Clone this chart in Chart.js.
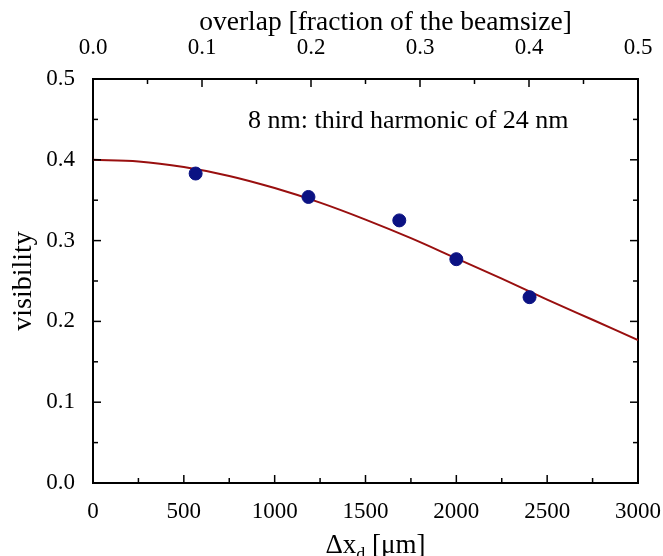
<!DOCTYPE html>
<html>
<head>
<meta charset="utf-8">
<script src="https://cdn.jsdelivr.net/npm/chart.js@4.4.1/dist/chart.umd.min.js"></script>
<style>
  html, body { margin: 0; padding: 0; background: #fff; }
  #wrap { width: 663px; height: 556px; }
</style>
</head>
<body>
<div id="wrap"><canvas id="myChart"></canvas></div>
<script>
// measured visibility vs. detuning offset
var measuredX = [565, 1186, 1686, 2000, 2403];
var measuredY = [0.383, 0.354, 0.325, 0.277, 0.230];

// fit curve
var fitX = [0, 250, 500, 750, 1000, 1250, 1500, 1750, 2000, 2250, 2500, 2750, 3000];
var fitY = [0.400, 0.398, 0.391, 0.380, 0.365, 0.347, 0.326, 0.303, 0.278, 0.253, 0.227, 0.202, 0.177];

var overlapTicks = ['0.0', '0.1', '0.2', '0.3', '0.4', '0.5'];
var topTitle = 'overlap [fraction of the beamsize]';
var noteText = '8 nm: third harmonic of 24 nm';
var notePos = { x: 853, y: 0.4394 };

var serif = "'Liberation Serif', 'Times New Roman', serif";

function toXY(xs, ys) {
  return xs.map(function (x, i) { return { x: x, y: ys[i] }; });
}

// keep the plot box fixed, whatever the edge labels need
function fixSize(prop, size) {
  return function (s) {
    s[prop] = size;
    s.paddingLeft = 0; s.paddingRight = 0;
    s.paddingTop = 0; s.paddingBottom = 0;
  };
}

// ticks pointing into the plot, with minor ticks halfway
var inwardTicks = {
  id: 'inwardTicks',
  afterDraw: function (chart) {
    var ctx = chart.ctx, area = chart.chartArea;
    ctx.save();
    ctx.strokeStyle = '#000';
    ctx.lineWidth = 1.5;
    ['x', 'x2', 'y', 'y2'].forEach(function (id) {
      var sc = chart.scales[id];
      var src = id === 'y2' ? chart.scales.y : sc;
      var vals = src.ticks.map(function (t) { return t.value; });
      var all = [];
      vals.forEach(function (v, i) {
        all.push([v, 8]);
        if (i < vals.length - 1) all.push([(v + vals[i + 1]) / 2, 5]);
      });
      all.forEach(function (p) {
        var pos = sc.getPixelForValue(p[0]);
        ctx.beginPath();
        if (id === 'x') { ctx.moveTo(pos, area.bottom); ctx.lineTo(pos, area.bottom - p[1]); }
        if (id === 'x2') { ctx.moveTo(pos, area.top); ctx.lineTo(pos, area.top + p[1]); }
        if (id === 'y') { ctx.moveTo(area.left, pos); ctx.lineTo(area.left + p[1], pos); }
        if (id === 'y2') { ctx.moveTo(area.right, pos); ctx.lineTo(area.right - p[1], pos); }
        ctx.stroke();
      });
    });
    ctx.restore();
  }
};

// axis titles that sit off-centre (bottom one has a subscript), plus the note
var extraText = {
  id: 'extraText',
  afterDraw: function (chart) {
    var ctx = chart.ctx, area = chart.chartArea;
    var mid = (area.left + area.right) / 2;
    ctx.save();
    ctx.fillStyle = '#000';
    ctx.textBaseline = 'alphabetic';

    ctx.textAlign = 'center';
    ctx.font = '27.5px ' + serif;
    ctx.fillText(topTitle, mid + 20, 30);

    ctx.textAlign = 'left';
    var big = '27px ' + serif, small = '18px ' + serif;
    ctx.font = big;
    var w1 = ctx.measureText('\u0394x').width;
    var w3 = ctx.measureText(' [\u03bcm]').width;
    ctx.font = small;
    var w2 = ctx.measureText('d').width;
    var x0 = mid + 10 - (w1 + w2 + w3) / 2;
    var base = 553;
    ctx.font = big;
    ctx.fillText('\u0394x', x0, base);
    ctx.font = small;
    ctx.fillText('d', x0 + w1, base + 7);
    ctx.font = big;
    ctx.fillText(' [\u03bcm]', x0 + w1 + w2, base);

    ctx.font = '26px ' + serif;
    ctx.fillText(noteText, chart.scales.x.getPixelForValue(notePos.x), chart.scales.y.getPixelForValue(notePos.y));
    ctx.restore();
  }
};

var tickFont = { family: serif, size: 23 };

new Chart(document.getElementById('myChart'), {
  type: 'scatter',
  data: {
    datasets: [{
      label: 'measured',
      data: toXY(measuredX, measuredY),
      backgroundColor: '#0b1283',
      borderColor: '#0b1283',
      pointRadius: 6.5,
      order: 0
    }, {
      label: 'fit',
      data: toXY(fitX, fitY),
      showLine: true,
      borderColor: '#990f0f',
      borderWidth: 2,
      pointRadius: 0,
      cubicInterpolationMode: 'monotone',
      order: 1
    }]
  },
  options: {
    responsive: true,
    maintainAspectRatio: false,
    animation: false,
    layout: { padding: 0, autoPadding: false },
    plugins: { legend: { display: false }, tooltip: { enabled: false } },
    scales: {
      x: {
        type: 'linear', position: 'bottom', min: 0, max: 3000,
        ticks: {
          stepSize: 500, color: '#000', font: tickFont, padding: 7, maxRotation: 0,
          callback: function (v) { return String(v); }
        },
        grid: { display: false },
        border: { display: true, color: '#000', width: 2 },
        afterFit: fixSize('height', 73)
      },
      x2: {
        type: 'linear', position: 'top', min: 0, max: 0.5,
        ticks: {
          stepSize: 0.1, color: '#000', font: tickFont, padding: 9, maxRotation: 0,
          callback: function (v, i) { return overlapTicks[i]; }
        },
        grid: { display: false },
        border: { display: true, color: '#000', width: 2 },
        afterFit: fixSize('height', 79)
      },
      y: {
        type: 'linear', position: 'left', min: 0, max: 0.5,
        ticks: {
          stepSize: 0.1, color: '#000', font: tickFont, padding: 10,
          callback: function (v) { return v.toFixed(1); }
        },
        title: {
          display: true, text: 'visibility', color: '#000',
          font: { family: serif, size: 28 }, padding: { top: 7, bottom: 0 }
        },
        grid: { display: false },
        border: { display: true, color: '#000', width: 2 },
        afterFit: fixSize('width', 93)
      },
      y2: {
        type: 'linear', position: 'right', min: 0, max: 0.5,
        ticks: { stepSize: 0.1, display: false },
        grid: { display: false },
        border: { display: true, color: '#000', width: 2 },
        afterFit: fixSize('width', 25)
      }
    }
  },
  plugins: [inwardTicks, extraText]
});
</script>
</body>
</html>
